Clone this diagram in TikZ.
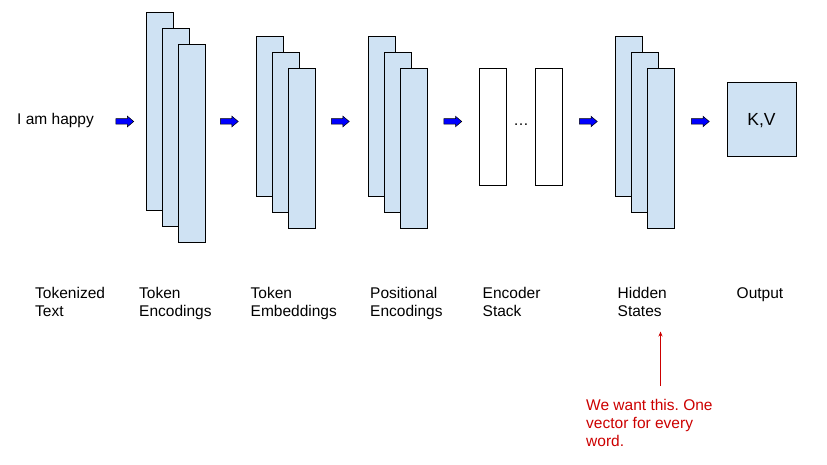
\documentclass[tikz,border=0pt]{standalone}
\usepackage{fontspec}
\setmainfont{Liberation Sans}
\frenchspacing
\usetikzlibrary{shapes.arrows, arrows.meta, positioning}
\definecolor{layerblue}{HTML}{CFE2F3}
\definecolor{flowblue}{HTML}{0000FF}
\definecolor{notered}{HTML}{CC0000}

\begin{document}
\begin{tikzpicture}[x=1pt, y=-1pt,
        layerbox/.style={rectangle, draw=black, fill=layerblue, line width=0.9pt, anchor=north west, inner sep=0pt, outer sep=0pt},
        tallbox/.style={layerbox, minimum width=27pt, minimum height=198pt},
        midbox/.style={layerbox, minimum width=27pt, minimum height=160pt},
        encbox/.style={layerbox, fill=white, minimum width=27pt, minimum height=117pt},
        flowarrow/.style={single arrow, draw=black, fill=flowblue, line width=0.5pt, inner sep=2.5pt, single arrow head extend=2.5pt, single arrow tip angle=80, minimum height=18pt, anchor=west},
        stagetext/.style={anchor=north west, inner sep=0pt, align=left, font=\fontsize{15.5}{18}\selectfont},
        notetext/.style={stagetext, text=notered}
    ]
        \useasboundingbox (0,0) rectangle (827,465);

        \node[anchor=base west, inner sep=0pt, font=\fontsize{15.5}{18}\selectfont] (input) at (17,125) {I am happy};

        % token encodings
        \node[tallbox] (tenc1) at (146,12) {};
        \node[tallbox] (tenc2) at (162,28) {};
        \node[tallbox] (tenc3) at (178,44) {};

        % token embeddings
        \node[midbox] (temb1) at (256,36) {};
        \node[midbox] (temb2) at (272,52) {};
        \node[midbox] (temb3) at (288,68) {};

        % positional encodings
        \node[midbox] (penc1) at (368,36) {};
        \node[midbox] (penc2) at (384,52) {};
        \node[midbox] (penc3) at (400,68) {};

        % encoder stack
        \node[encbox] (stack1) at (479,68) {};
        \node[encbox] (stack2) at (535,68) {};
        \node[anchor=base, inner sep=0pt, font=\fontsize{15.5}{18}\selectfont] (dots) at (521,125.5) {…};

        % hidden states
        \node[midbox] (hid1) at (615,36) {};
        \node[midbox] (hid2) at (631,52) {};
        \node[midbox] (hid3) at (647,68) {};

        \node[layerbox, minimum width=69pt, minimum height=74pt, text depth=0pt, font=\fontsize{17.5}{20}\selectfont] (kv) at (727,82) {K,V};

        \node[flowarrow] (f1) at (115.5,121.5) {};
        \node[flowarrow] (f2) at (220,121.5) {};
        \node[flowarrow] (f3) at (331,121.5) {};
        \node[flowarrow] (f4) at (443.5,121.5) {};
        \node[flowarrow] (f5) at (579,121.5) {};
        \node[flowarrow] (f6) at (691,121.5) {};

        \node[stagetext] (tok-lbl) at (35,287) {Tokenized\\Text};
        \node[stagetext] (tenc-lbl) at (139,287) {Token\\Encodings};
        \node[stagetext] (temb-lbl) at (250.5,287) {Token\\Embeddings};
        \node[stagetext] (penc-lbl) at (370,287) {Positional\\Encodings};
        \node[stagetext] (stack-lbl) at (482.5,287) {Encoder\\Stack};
        \node[stagetext] (hid-lbl) at (617.5,287) {Hidden\\States};
        \node[stagetext] (out-lbl) at (736.5,287) {Output};

        \node[notetext] (note) at (586,399.5) {We want this. One\\vector for every\\word.};
        \coordinate (note-tail) at (660.5,386);
        \coordinate (note-tip) at (660.5,331.5);
        \draw[-{Stealth[length=5pt, width=4pt]}, notered, line width=0.6pt] (note-tail) -- (note-tip);
    \end{tikzpicture}
\end{document}
